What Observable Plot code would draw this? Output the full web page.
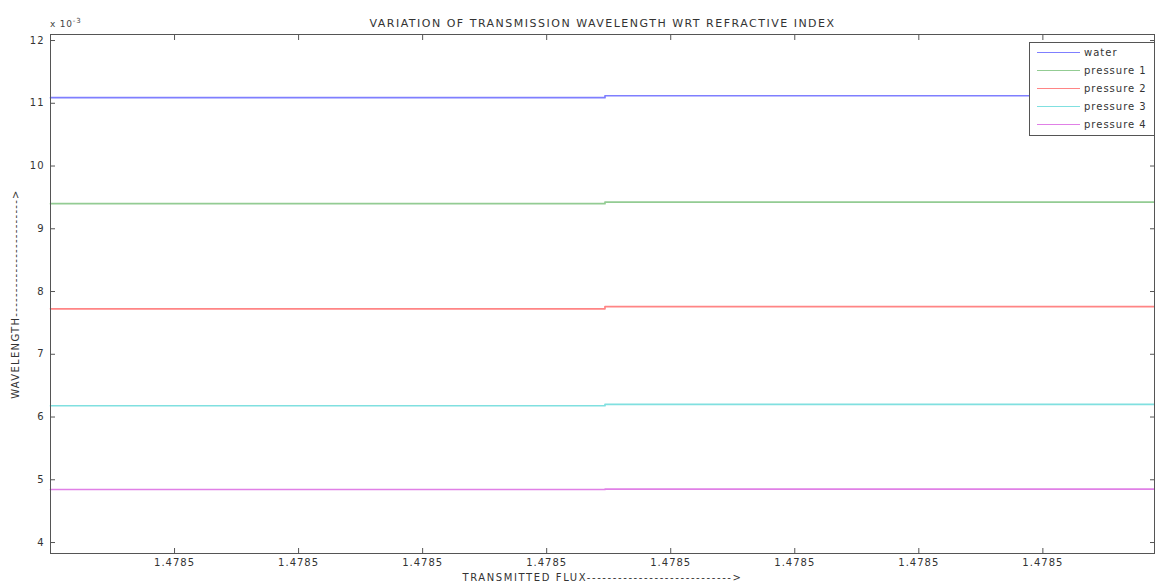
<!DOCTYPE html>
<html>
<head>
<meta charset="utf-8">
<script src="https://cdn.jsdelivr.net/npm/d3@7"></script>
<script src="https://cdn.jsdelivr.net/npm/@observablehq/plot@0.6"></script>
<style>
  html, body { margin: 0; padding: 0; background: #fff; }
  #wrap { position: relative; width: 1155px; height: 587px; font-family: "DejaVu Sans", sans-serif; color: #333; }
  #wrap svg text { letter-spacing: 1px; }
  #expo { position: absolute; left: 50px; top: 17px; font-size: 9px; color: #444; letter-spacing: 0.8px; }
  #expo sup { font-size: 7px; }
  #legend { position: absolute; left: 1029px; top: 42px; width: 126px; height: 94px; border: 1px solid #555; background: #fff; box-sizing: border-box; }
  .row { position: absolute; left: 0; height: 14px; font-size: 10px; color: #333; letter-spacing: 1px; }
  .row .sw { position: absolute; left: 7px; width: 43px; height: 0; border-top: 1.6px solid; top: 6px; }
  .row .lb { position: absolute; left: 54px; top: 0; white-space: nowrap; line-height: 14px; }
</style>
</head>
<body>
<div id="wrap"></div>
<script>
// ---- data ----
const title = "VARIATION OF TRANSMISSION WAVELENGTH WRT REFRACTIVE INDEX";
const xLabel = "TRANSMITTED FLUX---------------------------->";
const yLabel = "WAVELENGTH------------------------>";
const yExponent = "-3";
const series = ["water", "pressure 1", "pressure 2", "pressure 3", "pressure 4"];
const colors = ["#7f7fff", "#93cc93", "#ff8585", "#80e0e0", "#e080e6"];
// x positions: start, step, end (refractive index)
const xBreaks = [1.4785, 1.47850447, 1.4785089];
// wavelength (x 10^-3) before and after the step
const before = [11.09, 9.40, 7.725, 6.18, 4.845];
const after = [11.12, 9.425, 7.76, 6.20, 4.85];
const xTicks = [1.478501, 1.478502, 1.478503, 1.478504, 1.478505, 1.478506, 1.478507, 1.478508];
const yTicks = [4, 5, 6, 7, 8, 9, 10, 11, 12];
const xDomain = [1.4785, 1.4785089];
const yDomain = [3.825, 12.096];

// ---- build rows ----
const rows = [];
series.forEach((s, i) => {
  rows.push({series: s, x: xBreaks[0], y: before[i]});
  rows.push({series: s, x: xBreaks[1], y: before[i]});
  rows.push({series: s, x: xBreaks[1], y: after[i]});
  rows.push({series: s, x: xBreaks[2], y: after[i]});
});

const blank = () => "";
const chart = Plot.plot({
  width: 1155,
  height: 587,
  marginLeft: 50,
  marginRight: 1,
  marginTop: 34,
  marginBottom: 34,
  style: {fontFamily: "DejaVu Sans, sans-serif", fontSize: "10px", color: "#333", background: "white"},
  x: {domain: xDomain},
  y: {domain: yDomain},
  color: {domain: series, range: colors},
  marks: [
    Plot.line(rows, {x: "x", y: "y", z: "series", stroke: "series", strokeWidth: 1.7}),
    Plot.frame({stroke: "#555", strokeWidth: 1}),
    Plot.axisX(xTicks, {anchor: "bottom", tickSize: 0, tickPadding: 5, tickFormat: d => d.toFixed(4), label: null}),
    Plot.axisX(xTicks, {anchor: "bottom", tickSize: -5, tickFormat: blank, label: null, stroke: "#555"}),
    Plot.axisX(xTicks, {anchor: "top", tickSize: -5, tickFormat: blank, label: null, stroke: "#555"}),
    Plot.axisY(yTicks, {anchor: "left", tickSize: 0, tickPadding: 6, tickFormat: d => String(d), label: null}),
    Plot.axisY(yTicks, {anchor: "left", tickSize: -5, tickFormat: blank, label: null, stroke: "#555"}),
    Plot.axisY(yTicks, {anchor: "right", tickSize: -5, tickFormat: blank, label: null, stroke: "#555"}),
    Plot.text([title], {frameAnchor: "top", dy: -15, fontSize: 11, fill: "#333"}),
    Plot.text([xLabel], {frameAnchor: "bottom", dy: 27, fontSize: 10, fill: "#333", textAnchor: "middle"}),
    Plot.text([yLabel], {frameAnchor: "left", dx: -35, rotate: -90, fontSize: 10, fill: "#333", textAnchor: "middle"})
  ]
});

const wrap = document.getElementById("wrap");
wrap.appendChild(chart);

// wider letter spacing for title and axis labels
d3.select(chart).selectAll("text").each(function () {
  const t = this.textContent;
  if (t === title) this.style.letterSpacing = "1.5px";
  else if (t === xLabel) this.style.letterSpacing = "1.6px";
  else if (t === yLabel) this.style.letterSpacing = "1.3px";
});

const expo = document.createElement("div");
expo.id = "expo";
expo.innerHTML = "x 10<sup>" + yExponent + "</sup>";
wrap.appendChild(expo);

const legend = document.createElement("div");
legend.id = "legend";
series.forEach((s, i) => {
  const r = document.createElement("div");
  r.className = "row";
  r.style.top = (3 + i * 18) + "px";
  r.innerHTML = `<span class="sw" style="border-top-color:${colors[i]}"></span><span class="lb">${s}</span>`;
  legend.appendChild(r);
});
wrap.appendChild(legend);
</script>
</body>
</html>
